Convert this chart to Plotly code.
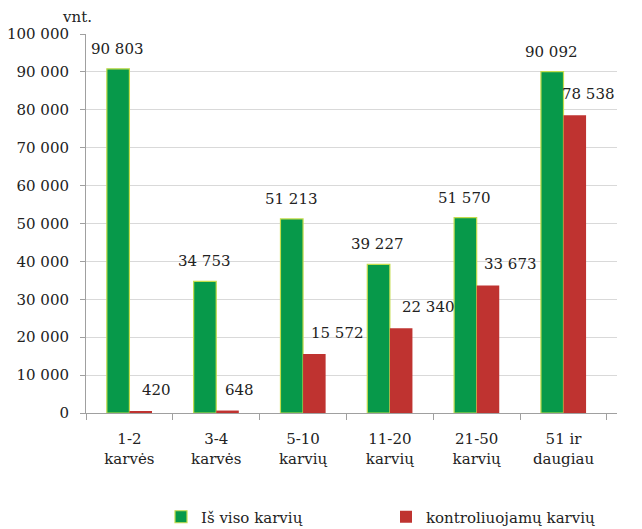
import plotly.graph_objects as go

categories = ["1-2<br>karvės", "3-4<br>karvės", "5-10<br>karvių", "11-20<br>karvių", "21-50<br>karvių", "51 ir<br>daugiau"]
total_cows = [90803, 34753, 51213, 39227, 51570, 90092]
controlled_cows = [420, 648, 15572, 22340, 33673, 78538]
y_ticks = [0, 10000, 20000, 30000, 40000, 50000, 60000, 70000, 80000, 90000, 100000]

# label horizontal nudges (pixels) for the red-series labels, as in the source
red_label_dx = [15, 11, 22, 27, 22, 13]

FONT = "DejaVu Serif"
FS = 15
GREEN = "#07994a"
RED = "#bf3330"

def fmt(v):
    return f"{v:,}".replace(",", " ")

fig = go.Figure()
fig.add_trace(go.Bar(name="Iš viso karvių", x=categories, y=total_cows,
                     marker=dict(color=GREEN, line=dict(color="#c3dc4c", width=1.2))))
fig.add_trace(go.Bar(name="kontroliuojamų karvių", x=categories, y=controlled_cows,
                     marker=dict(color=RED, line=dict(width=0))))

annotations = []
for i, c in enumerate(categories):
    annotations.append(dict(x=c, y=total_cows[i], text=fmt(total_cows[i]), showarrow=False,
                            xshift=-12, yshift=20, yanchor="middle",
                            font=dict(family=FONT, size=FS, color="#222")))
    annotations.append(dict(x=c, y=controlled_cows[i], text=fmt(controlled_cows[i]), showarrow=False,
                            xshift=12 + red_label_dx[i], yshift=21, yanchor="middle",
                            font=dict(family=FONT, size=FS, color="#222")))
annotations.append(dict(xref="paper", yref="paper", x=(60 - 86) / 531, y=1 + (34 - 17) / 379,
                        xanchor="left", yanchor="middle", text="vnt.", showarrow=False,
                        font=dict(family=FONT, size=FS, color="#222")))

fig.update_layout(
    width=634, height=521,
    margin=dict(l=78, r=25, t=26, b=116, autoexpand=False),
    paper_bgcolor="white", plot_bgcolor="white",
    barmode="group", bargap=0.48, bargroupgap=0,
    font=dict(family=FONT, size=FS, color="#222"),
    showlegend=True,
    legend=dict(orientation="h", x=(153 - 78) / 531, xanchor="left", y=-(517 - 413) / 379, yanchor="middle",
                font=dict(family=FONT, size=FS, color="#222"), traceorder="normal",
                entrywidth=180, itemwidth=30),
    annotations=annotations,
    xaxis=dict(type="category", showline=True, linecolor="#a0a0a0", linewidth=1,
               ticks="outside", tickson="boundaries", ticklen=6, tickcolor="#a0a0a0",
               showgrid=False, ticklabelstandoff=12,
               tickfont=dict(family=FONT, size=FS, color="#222")),
    yaxis=dict(range=[0, 100000], tickvals=y_ticks, ticktext=[fmt(v) for v in y_ticks],
               showline=True, linecolor="#a0a0a0", linewidth=1,
               ticks="outside", ticklen=5, tickcolor="#a0a0a0",
               showgrid=True, gridcolor="#d9d9d9", gridwidth=1, zeroline=False,
               ticklabelstandoff=8,
               tickfont=dict(family=FONT, size=FS, color="#222")),
)

fig.write_html("out.html")
